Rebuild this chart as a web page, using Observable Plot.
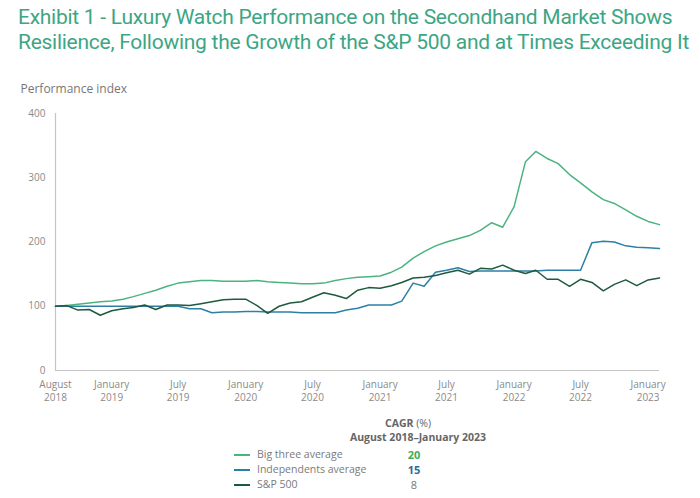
<!DOCTYPE html>
<html>
<head>
<meta charset="utf-8">
<script src="https://cdn.jsdelivr.net/npm/d3@7"></script>
<script src="https://cdn.jsdelivr.net/npm/@observablehq/plot@0.6"></script>
<style>
  body { margin: 0; background: #fff; width: 700px; height: 498px; overflow: hidden; position: relative; font-family: "Open Sans", sans-serif; }
  #title { position: absolute; left: 18px; top: 5px; font-family: Roboto, sans-serif; font-size: 21px; line-height: 25px; letter-spacing: -0.27px; color: #3ca684; white-space: nowrap; }
  #chart { position: absolute; left: 0; top: 62px; }
  .leg { position: absolute; font-size: 10.5px; line-height: 13px; color: #7a7a7a; white-space: nowrap; }
  .hdr { position: absolute; font-size: 10.5px; line-height: 13px; font-weight: 700; color: #666; white-space: nowrap; text-align: center; width: 200px; }
  .sw { position: absolute; width: 16px; height: 2px; }
  .val { position: absolute; font-size: 11px; line-height: 12px; font-weight: 700; text-align: center; width: 30px; }
</style>
</head>
<body>
<div id="title">Exhibit 1 - Luxury Watch Performance on the Secondhand Market Shows<br>Resilience, Following the Growth of the S&amp;P 500 and at Times Exceeding It</div>
<div id="chart"></div>
<div id="legend"></div>
<script>
// Monthly observations, August 2018 – February 2023
const startMonth = [2018, 7]; // August 2018 (month index 7)
const bigThree = [100,101,103,105,107,108,111,115,120,125,131,136,138,140,140,139,139,139,140,138,137,136,135,135,136,140,143,145,146,147,153,161,175,185,194,200,205,210,218,230,223,255,325,341,330,322,305,292,278,266,260,250,240,232,227];
const independents = [100,100,100,100,100,100,100,100,100,100,100,100,96,96,90,91,91,92,92,91,91,91,90,90,90,90,94,97,102,102,102,108,136,131,153,156,160,154,155,155,155,155,155,155,156,156,156,156,199,201,200,194,192,191,190];
const sp500 = [100,101,94,95,86,93,96,98,102,95,102,102,101,104,107,110,111,111,101,89,100,105,107,114,121,117,112,125,129,128,132,137,144,145,148,152,156,150,159,158,164,156,151,156,142,142,131,142,137,124,134,141,132,141,144];

const seriesNames = ["Big three average", "Independents average", "S&P 500"];
const seriesColors = ["#4cb37f", "#2e7fa6", "#1f5a3e"];
const cagr = [20, 15, 8];
const cagrColors = ["#3fae55", "#2a6c9c", "#777777"];

const yTicks = [0, 100, 200, 300, 400];
const xTickDates = [[2018,7],[2019,0],[2019,6],[2020,0],[2020,6],[2021,0],[2021,6],[2022,0],[2022,6],[2023,0]];
const monthNames = ["January","February","March","April","May","June","July","August","September","October","November","December"];

const dateAt = i => new Date(Date.UTC(startMonth[0], startMonth[1] + i, 1));
const rows = [];
[bigThree, independents, sp500].forEach((vals, s) => {
  vals.forEach((v, i) => rows.push({date: dateAt(i), value: v, series: seriesNames[s]}));
});
const ticks = xTickDates.map(([y, m]) => new Date(Date.UTC(y, m, 1)));
const x0 = dateAt(0), x1 = dateAt(bigThree.length - 1);

const plot = Plot.plot({
  width: 700,
  height: 348,
  marginLeft: 55,
  marginRight: 41,
  marginTop: 51,
  marginBottom: 40,
  style: {fontFamily: "Open Sans, sans-serif", fontSize: "10px", color: "#8a8a8a", background: "#fff"},
  x: {type: "utc", domain: [x0, x1]},
  y: {domain: [0, 400]},
  color: {domain: seriesNames, range: seriesColors},
  marks: [
    Plot.ruleX([x0], {y1: 0, y2: 400, stroke: "#c4c4c4", strokeWidth: 1.2}),
    Plot.ruleY([0], {stroke: "#c4c4c4", strokeWidth: 1.2}),
    Plot.axisY(yTicks, {tickSize: 0, tickPadding: 10, label: null, fill: "#8a8a8a", fontSize: 10}),
    Plot.axisX(ticks, {tickSize: 0, tickPadding: 9, label: null, fill: "#8a8a8a", fontSize: 10,
      tickFormat: d => monthNames[d.getUTCMonth()] + "\n" + d.getUTCFullYear(), lineHeight: 1.25}),
    Plot.text(["Performance index"], {frameAnchor: "top-left", dx: -35, dy: -29, fill: "#777", fontSize: 12, textAnchor: "start"}),
    Plot.line(rows, {x: "date", y: "value", z: "series", stroke: "series", strokeWidth: 1.5})
  ]
});
document.getElementById("chart").appendChild(plot);

// Legend
const leg = document.getElementById("legend");
const h1 = document.createElement("div");
h1.className = "hdr"; h1.style.left = "308px"; h1.style.top = "417px";
h1.innerHTML = "CAGR <span style='font-weight:400'>(%)</span>";
leg.appendChild(h1);
const h2 = document.createElement("div");
h2.className = "hdr"; h2.style.left = "318px"; h2.style.top = "431px";
h2.textContent = "August 2018–January 2023";
leg.appendChild(h2);
seriesNames.forEach((name, i) => {
  const y = 455 + i * 15;
  const sw = document.createElement("div");
  sw.className = "sw"; sw.style.left = "234px"; sw.style.top = (y - 1) + "px"; sw.style.background = seriesColors[i];
  leg.appendChild(sw);
  const t = document.createElement("div");
  t.className = "leg"; t.style.left = "257px"; t.style.top = (y - 7) + "px"; t.textContent = name;
  leg.appendChild(t);
  const v = document.createElement("div");
  v.className = "val"; v.style.left = "399px"; v.style.top = (y - 6) + "px"; v.style.color = cagrColors[i];
  v.style.fontWeight = i < 2 ? "700" : "400";
  v.textContent = cagr[i];
  leg.appendChild(v);
});
</script>
</body>
</html>
